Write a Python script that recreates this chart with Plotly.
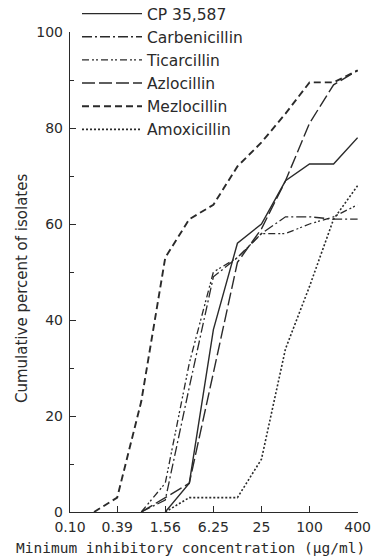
import plotly.graph_objects as go

conc = [0.10, 0.20, 0.39, 0.78, 1.56, 3.12, 6.25, 12.5, 25, 50, 100, 200, 400]

cp35587 = [None, None, None, None, 0, 6, 38, 56, 60, 69, 72.5, 72.5, 78]
carbenicillin = [None, None, None, 0, 2.5, 26, 49, 53, 58, 61.5, 61.5, 61, 61]
ticarcillin = [None, None, None, 0, 6, 31, 50, 53, 58, 58, 60, 61.5, 64]
azlocillin = [None, None, None, 0, 3, 6, 29, 52, 59, 69, 81, 89, 92]
mezlocillin = [None, 0, 3, 23, 53, 61, 64, 72, 77, 83, 89.5, 89.5, 92]
amoxicillin = [None, None, None, None, 0, 3, 3, 3, 11, 34, 47, 61, 68]

series_names = ["CP 35,587", "Carbenicillin", "Ticarcillin", "Azlocillin", "Mezlocillin", "Amoxicillin"]
series_values = [cp35587, carbenicillin, ticarcillin, azlocillin, mezlocillin, amoxicillin]

x_tick_vals = [0.10, 0.39, 1.56, 6.25, 25, 100, 400]
x_tick_text = ["0.10", "0.39", "1.56", "6.25", "25", "100", "400"]
y_tick_vals = [0, 20, 40, 60, 80, 100]

styles = {
    "CP 35,587": dict(dash="solid", width=1.4),
    "Carbenicillin": dict(dash="10px,3px,2px,3px", width=1.3),
    "Ticarcillin": dict(dash="7px,3px,2px,2px,2px,3px", width=1.3),
    "Azlocillin": dict(dash="13px,4px", width=1.4),
    "Mezlocillin": dict(dash="7px,4px", width=1.9),
    "Amoxicillin": dict(dash="2px,2px", width=1.6),
}

W, H = 373, 560
ML, MR, MB = 70, 15, 48
PLOT_TOP = 32
paper_h = H - MB
ydom_top = (paper_h - PLOT_TOP) / paper_h
pw = W - ML - MR

ink = "#2a2a2a"
fig = go.Figure()
for name, vals in zip(series_names, series_values):
    st = styles[name]
    fig.add_trace(go.Scatter(
        x=conc, y=vals, mode="lines", name=name, legendgroup=name,
        line=dict(color=ink, width=st["width"], dash=st["dash"]),
        connectgaps=False,
    ))

fig.update_layout(
    width=W, height=H,
    margin=dict(l=ML, r=MR, t=0, b=MB, autoexpand=False),
    paper_bgcolor="white", plot_bgcolor="white",
    font=dict(family="DejaVu Sans", color=ink),
    showlegend=True,
    legend=dict(
        x=7 / pw, y=1 + 3 / paper_h, xanchor="left", yanchor="top",
        bgcolor="rgba(0,0,0,0)", borderwidth=0,
        font=dict(family="DejaVu Sans", size=15.5, color=ink),
        tracegroupgap=0,
        itemwidth=60,
    ),
    xaxis=dict(
        type="log", range=[-1, 2.607],
        tickvals=x_tick_vals, ticktext=x_tick_text,
        ticks="inside", ticklen=6, tickwidth=1.2, tickcolor=ink,
        showline=True, linecolor=ink, linewidth=1.4,
        showgrid=False, zeroline=False, automargin=False,
        ticklabelstandoff=2,
        tickfont=dict(family="DejaVu Sans", size=14, color=ink),
    ),
    yaxis=dict(
        range=[0, 100], domain=[0, ydom_top],
        tickvals=y_tick_vals,
        ticks="inside", ticklen=6, tickwidth=1.2, tickcolor=ink,
        minor=dict(ticks="inside", dtick=10, ticklen=4, tickcolor=ink, tickwidth=1.2),
        showline=True, linecolor=ink, linewidth=1.4,
        showgrid=False, zeroline=False, automargin=False,
        ticklabelstandoff=3,
        tickfont=dict(family="DejaVu Sans", size=14, color=ink),
    ),
    annotations=[
        dict(
            text="Minimum inhibitory concentration (μg/ml)",
            xref="paper", yref="paper", x=(190 - ML) / pw, y=(paper_h - 548) / paper_h,
            xanchor="center", yanchor="middle",
            showarrow=False, font=dict(family="DejaVu Sans Mono", size=14.5, color=ink),
        ),
        dict(
            text="Cumulative percent of isolates",
            xref="paper", yref="paper", x=(22 - ML) / pw, y=(paper_h - 289) / paper_h,
            xanchor="center", yanchor="middle", textangle=-90,
            showarrow=False, font=dict(family="DejaVu Sans", size=15, color=ink),
        ),
    ],
)

fig.write_html(
    "out.html",
    config={"displayModeBar": False},
    post_script="document.body.style.margin='0';document.body.style.overflow='hidden';",
)
